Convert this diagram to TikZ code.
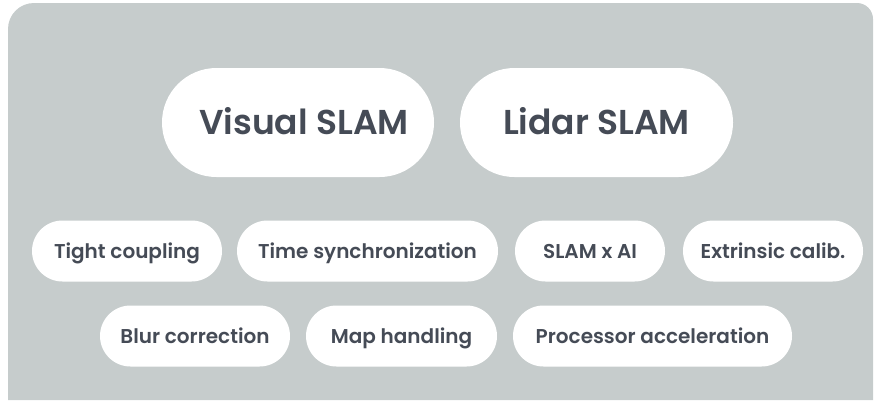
\documentclass[tikz,border=0pt]{standalone}
\usepackage{fontspec}
\setmainfont{Poppins}[BoldFont={Poppins SemiBold}]
\definecolor{bggray}{HTML}{C6CCCC}
\definecolor{txtgray}{HTML}{454B56}
\tikzset{
  pill/.style={fill=white, draw=none, rounded corners=#1, inner sep=0pt, align=center,
    text=txtgray, font=\bfseries},
  bigpill/.style={pill=54.5pt, minimum height=109pt, font=\fontsize{34.5}{38}\selectfont\bfseries,
    text height=24pt, text depth=0pt},
  smallpill/.style={pill=30.5pt, minimum height=61pt, font=\fontsize{20}{24}\selectfont\bfseries,
    text height=14pt, text depth=0pt},
}
\begin{document}
\begin{tikzpicture}[x=1pt,y=-1pt]
\useasboundingbox (0,0) rectangle (874,400);
\fill[bggray] (8,400) -- (8,29) arc[start angle=180,end angle=270,radius=26] -- (857,3)
  arc[start angle=270,end angle=360,radius=16] -- (873,400) -- cycle;
% row 1
\node[bigpill, minimum width=272pt] (visual) at (298,122.5) {\hspace*{12pt}Visual SLAM};
\node[bigpill, minimum width=273pt] (lidar) at (596.5,122.5) {Lidar SLAM};
% row 2
\node[smallpill, minimum width=190pt] (tight) at (127,251) {Tight coupling};
\node[smallpill, minimum width=261pt] (time) at (367.5,251) {Time synchronization};
\node[smallpill, minimum width=150pt] (ai) at (590,251) {SLAM x AI};
\node[smallpill, minimum width=180pt] (extr) at (773,251) {Extrinsic calib.};
% row 3
\node[smallpill, minimum width=190pt] (blur) at (195,336) {Blur correction};
\node[smallpill, minimum width=191pt] (map) at (401.5,336) {Map handling};
\node[smallpill, minimum width=279pt] (proc) at (652.5,336) {Processor acceleration};
\end{tikzpicture}
\end{document}
